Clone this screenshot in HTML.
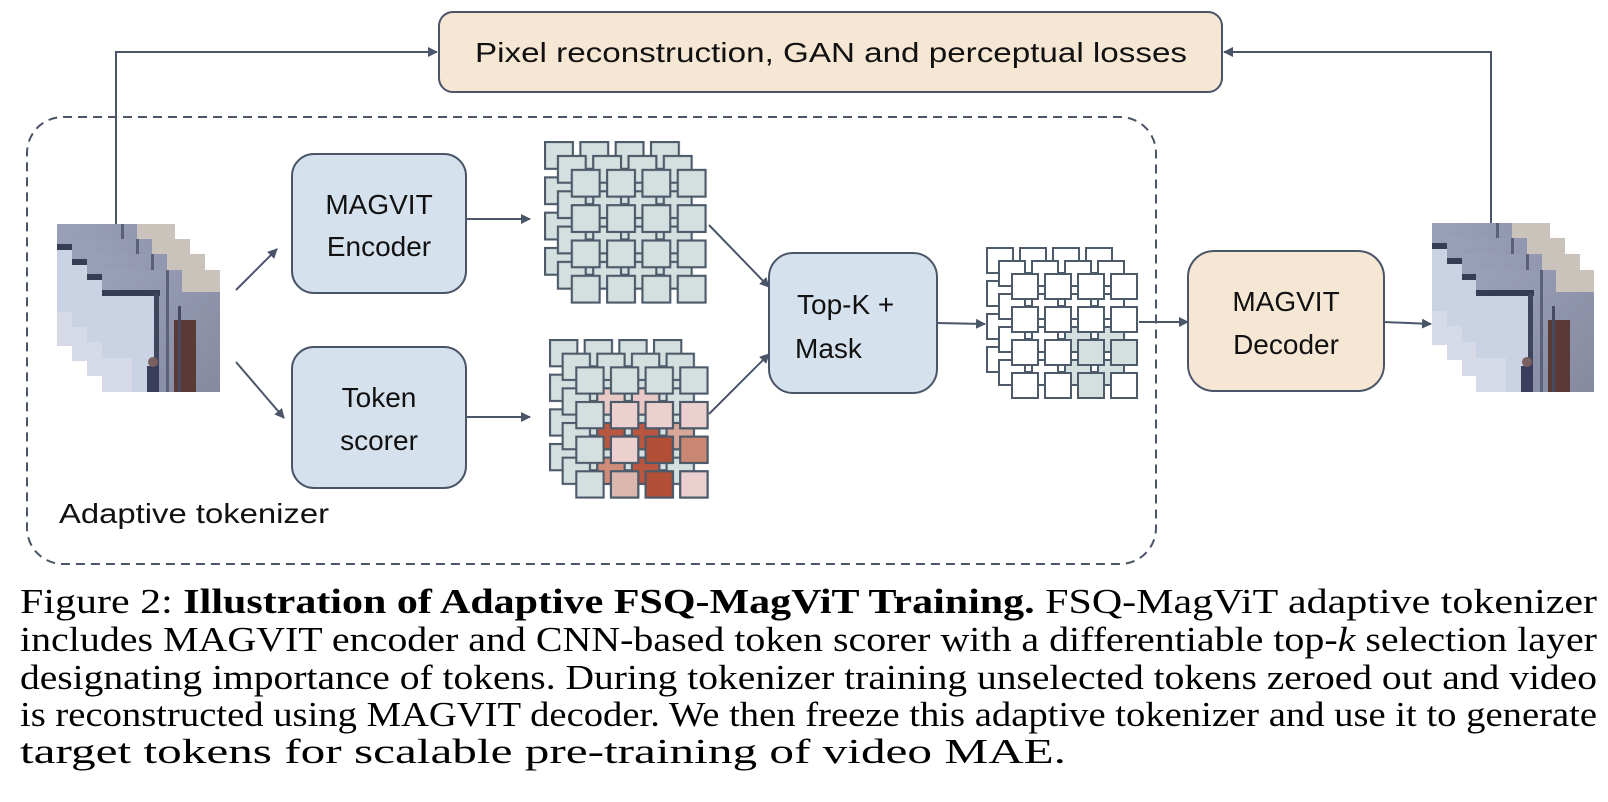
<!DOCTYPE html>
<html><head><meta charset="utf-8"><style>
html,body{margin:0;padding:0;background:#fff;}
svg{display:block;}
.cap{font-family:"Liberation Serif","Times New Roman",serif;font-size:35px;fill:#000;}
.bx{font-family:"Liberation Sans",Arial,sans-serif;font-size:28px;fill:#111;}
</style></head><body>
<svg width="1608" height="802" viewBox="0 0 1608 802" xmlns="http://www.w3.org/2000/svg">
<defs>
<pattern id="pG" patternUnits="userSpaceOnUse" x="0" y="0" width="33" height="33">
<rect x="1" y="1" width="26" height="25" fill="#d4dfdf" stroke="#4d5a6a" stroke-width="2"/>
</pattern>
<pattern id="pW" patternUnits="userSpaceOnUse" x="0" y="0" width="33" height="33">
<rect x="1" y="1" width="26" height="25" fill="#fff" stroke="#4d5a6a" stroke-width="2"/>
</pattern>
<marker id="ah" markerWidth="10" markerHeight="10" refX="9" refY="5" orient="auto" markerUnits="userSpaceOnUse" viewBox="0 0 10 10">
<path d="M0,0 L10,5 L0,10 z" fill="#4a5568"/>
</marker>
<linearGradient id="wall" x1="0" y1="0" x2="1" y2="1">
<stop offset="0" stop-color="#9aa0b8"/><stop offset="1" stop-color="#858aa0"/>
</linearGradient>
<symbol id="photo" viewBox="0 0 118 122" width="118" height="122">
<rect width="118" height="122" fill="url(#wall)"/>
<rect x="80" y="0" width="38" height="22" fill="#c9c3bb"/>
<rect x="0" y="24" width="55" height="98" fill="#cad3e3"/>
<rect x="0" y="20" width="58" height="6" fill="#363c52"/>
<rect x="52" y="24" width="5" height="98" fill="#3f455c"/>
<rect x="64" y="0" width="3" height="122" fill="#5a6178"/>
<rect x="72" y="50" width="22" height="72" fill="#5b3a36"/>
<rect x="76" y="36" width="3" height="86" fill="#454b62"/>
<rect x="45" y="96" width="12" height="26" fill="#3a3d5c"/>
<circle cx="51" cy="92" r="5" fill="#7a6060"/>
<rect x="0" y="88" width="30" height="34" fill="#dde0ea" opacity="0.6"/>
</symbol>
</defs>

<rect x="439" y="12" width="783" height="80" rx="14" fill="#f6e7d4" stroke="#4a5568" stroke-width="2"/>
<text x="475" y="62" class="bx" textLength="712" lengthAdjust="spacingAndGlyphs">Pixel reconstruction, GAN and perceptual losses</text>

<rect x="27" y="117" width="1129" height="447" rx="36" fill="none" stroke="#4a5568" stroke-width="2" stroke-dasharray="9,6"/>
<text x="59" y="523" class="bx" textLength="270" lengthAdjust="spacingAndGlyphs">Adaptive tokenizer</text>

<polyline points="116,224 116,52 437,52" fill="none" stroke="#4a5568" stroke-width="2" marker-end="url(#ah)"/>
<polyline points="1491,223 1491,52 1224,52" fill="none" stroke="#4a5568" stroke-width="2" marker-end="url(#ah)"/>

<use href="#photo" x="57" y="224"/>
<use href="#photo" x="72" y="239"/>
<use href="#photo" x="87" y="254"/>
<use href="#photo" x="102" y="270"/>

<use href="#photo" x="1432" y="223"/>
<use href="#photo" x="1447" y="238"/>
<use href="#photo" x="1462" y="254"/>
<use href="#photo" x="1476" y="270"/>

<rect x="292" y="154" width="174" height="139" rx="22" fill="#d6e1ee" stroke="#4a5568" stroke-width="2"/>
<text x="379" y="214" text-anchor="middle" class="bx" font-size="30">MAGVIT</text>
<text x="379" y="256" text-anchor="middle" class="bx" font-size="30">Encoder</text>
<rect x="292" y="347" width="174" height="141" rx="22" fill="#d6e1ee" stroke="#4a5568" stroke-width="2"/>
<text x="379" y="407" text-anchor="middle" class="bx" font-size="30">Token</text>
<text x="379" y="450" text-anchor="middle" class="bx" font-size="30">scorer</text>

<line x1="236" y1="290" x2="277" y2="249" stroke="#4a5568" stroke-width="2" marker-end="url(#ah)"/>
<line x1="236" y1="362" x2="284" y2="418" stroke="#4a5568" stroke-width="2" marker-end="url(#ah)"/>
<line x1="466" y1="219" x2="530" y2="219" stroke="#4a5568" stroke-width="2" marker-end="url(#ah)"/>
<line x1="466" y1="417" x2="530" y2="417" stroke="#4a5568" stroke-width="2" marker-end="url(#ah)"/>

<g transform="translate(544,141) scale(1.07)">
<rect x="-1" y="-1" width="132" height="132" fill="url(#pG)"/>
<g transform="translate(12,13)"><rect x="-1" y="-1" width="132" height="132" fill="url(#pG)"/></g>
<g transform="translate(25,26)"><rect x="-1" y="-1" width="132" height="132" fill="url(#pG)"/></g>
</g>

<g transform="translate(549,339) scale(1.05)" stroke="#4d5a6a" stroke-width="2">
<rect x="-1" y="-1" width="132" height="132" fill="url(#pG)" stroke="none"/>
<g transform="translate(12,13)">
<rect x="-1" y="-1" width="132" height="132" fill="url(#pG)" stroke="none"/>
<rect x="34" y="34" width="26" height="25" fill="#e9c9c6"/>
<rect x="67" y="34" width="26" height="25" fill="#e9c9c6"/>
<rect x="34" y="67" width="26" height="25" fill="#b9563f"/>
<rect x="67" y="67" width="26" height="25" fill="#b9563f"/>
<rect x="100" y="67" width="26" height="25" fill="#d9a79a"/>
<rect x="34" y="100" width="26" height="25" fill="#cf8c78"/>
<rect x="67" y="100" width="26" height="25" fill="#b9563f"/>
</g>
<g transform="translate(25,26)">
<rect x="-1" y="-1" width="132" height="132" fill="url(#pG)" stroke="none"/>
<rect x="34" y="34" width="26" height="25" fill="#ecd0cf"/>
<rect x="67" y="34" width="26" height="25" fill="#ecd0cf"/>
<rect x="100" y="34" width="26" height="25" fill="#ecd0cf"/>
<rect x="34" y="67" width="26" height="25" fill="#ecd0cf"/>
<rect x="67" y="67" width="26" height="25" fill="#b14f37"/>
<rect x="100" y="67" width="26" height="25" fill="#c98672"/>
<rect x="34" y="100" width="26" height="25" fill="#dbb6ac"/>
<rect x="67" y="100" width="26" height="25" fill="#b14f37"/>
<rect x="100" y="100" width="26" height="25" fill="#ecd0cf"/>
</g>
</g>

<rect x="769" y="253" width="168" height="140" rx="24" fill="#d6e1ee" stroke="#4a5568" stroke-width="2"/>
<text x="797" y="314" class="bx" font-size="30">Top-K +</text>
<text x="795" y="358" class="bx" font-size="30">Mask</text>
<line x1="709" y1="225" x2="769" y2="287" stroke="#4a5568" stroke-width="2" marker-end="url(#ah)"/>
<line x1="709" y1="414" x2="769" y2="354" stroke="#4a5568" stroke-width="2" marker-end="url(#ah)"/>
<line x1="937" y1="323" x2="985" y2="324" stroke="#4a5568" stroke-width="2" marker-end="url(#ah)"/>

<g transform="translate(986,247)" stroke="#4d5a6a" stroke-width="2">
<rect x="-1" y="-1" width="132" height="132" fill="url(#pW)" stroke="none"/>
<g transform="translate(12,13)">
<rect x="-1" y="-1" width="132" height="132" fill="url(#pW)" stroke="none"/>
<rect x="67" y="67" width="26" height="25" fill="#d4dfdf"/>
<rect x="100" y="67" width="26" height="25" fill="#d4dfdf"/>
<rect x="67" y="100" width="26" height="25" fill="#d4dfdf"/>
<rect x="100" y="100" width="26" height="25" fill="#d4dfdf"/>
</g>
<g transform="translate(25,26)">
<rect x="-1" y="-1" width="132" height="132" fill="url(#pW)" stroke="none"/>
<rect x="67" y="67" width="26" height="25" fill="#d4dfdf"/>
<rect x="100" y="67" width="26" height="25" fill="#d4dfdf"/>
<rect x="67" y="100" width="26" height="25" fill="#d4dfdf"/>
</g>
</g>

<line x1="1139" y1="322" x2="1188" y2="322" stroke="#4a5568" stroke-width="2" marker-end="url(#ah)"/>
<rect x="1188" y="251" width="196" height="140" rx="26" fill="#f6e7d4" stroke="#4a5568" stroke-width="2"/>
<text x="1286" y="311" text-anchor="middle" class="bx" font-size="30">MAGVIT</text>
<text x="1286" y="354" text-anchor="middle" class="bx" font-size="30">Decoder</text>
<line x1="1384" y1="322" x2="1431" y2="324" stroke="#4a5568" stroke-width="2" marker-end="url(#ah)"/>

<text x="20" y="613" class="cap" textLength="1577" lengthAdjust="spacingAndGlyphs">Figure 2:  <tspan font-weight="bold">Illustration of Adaptive FSQ-MagViT Training.</tspan>  FSQ-MagViT adaptive tokenizer</text>
<text x="20" y="651" class="cap" textLength="1577" lengthAdjust="spacingAndGlyphs">includes MAGVIT encoder and CNN-based token scorer with a differentiable top-<tspan font-style="italic">k</tspan> selection layer</text>
<text x="20" y="689" class="cap" textLength="1577" lengthAdjust="spacingAndGlyphs">designating importance of tokens. During tokenizer training unselected tokens zeroed out and video</text>
<text x="20" y="726" class="cap" textLength="1577" lengthAdjust="spacingAndGlyphs">is reconstructed using MAGVIT decoder. We then freeze this adaptive tokenizer and use it to generate</text>
<text x="20" y="763" class="cap" textLength="1046" lengthAdjust="spacingAndGlyphs">target tokens for scalable pre-training of video MAE.</text>
</svg>
</body></html>
